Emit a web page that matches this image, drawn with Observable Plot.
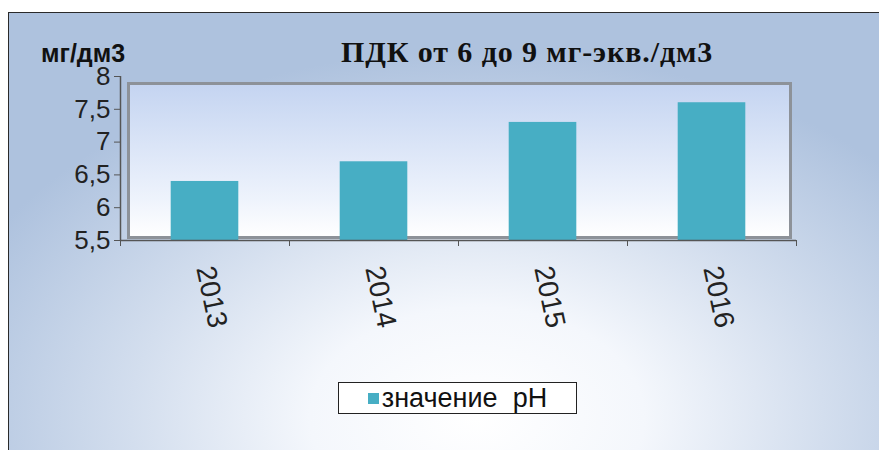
<!DOCTYPE html>
<html>
<head>
<meta charset="utf-8">
<script src="https://cdn.jsdelivr.net/npm/d3@7"></script>
<script src="https://cdn.jsdelivr.net/npm/@observablehq/plot@0.6"></script>
<style>
  html, body { margin: 0; padding: 0; background: #fff; overflow: hidden; }
  #wrap { position: relative; width: 879px; height: 450px; overflow: hidden; background: #fff; }
  #bg { position: absolute; left: 8px; top: 12px; width: 900px; height: 460px;
        border: 1.5px solid #2a2a2a;
        background: radial-gradient(ellipse 62% 80% at 52% 88%, #ffffff 0%, #f4f7fc 30%, #d3deee 62%, #aec2de 100%); }
  #chart { position: absolute; left: 0; top: 0; }
  #unit { position: absolute; left: 41px; top: 39px; line-height: 1; font: bold 25px "Liberation Sans", Arial, sans-serif; color: #111; }
  #title { position: absolute; left: 341px; top: 35px; font: bold 30px "Liberation Serif", "Times New Roman", serif; letter-spacing: 0.9px; color: #111; white-space: nowrap; }
  #legend { position: absolute; left: 338px; top: 382px; width: 237px; height: 30px; border: 1.5px solid #222; background: #fff;
            font: 27px "Liberation Sans", Arial, sans-serif; color: #111; display: flex; align-items: center; justify-content: center; }
  #legend .sw { width: 11px; height: 11px; background: #47aec4; margin-right: 3px; }
</style>
</head>
<body>
<div id="wrap">
  <div id="bg"></div>
  <div id="chart"></div>
  <div id="unit">мг/дм3</div>
  <div id="title">ПДК от 6 до 9 мг-экв./дм3</div>
  <div id="legend"><span class="sw"></span><span>значение&nbsp; pH</span></div>
</div>
<script>
const years = ["2013", "2014", "2015", "2016"];
const phValues = [6.4, 6.7, 7.3, 7.6];
const yTicks = [5.5, 6, 6.5, 7, 7.5, 8];
const seriesName = "значение pH";

const data = years.map((y, i) => ({year: y, i, value: phValues[i]}));

const plot = Plot.plot({
  width: 879,
  height: 450,
  marginLeft: 120,
  marginRight: 83,
  marginTop: 76,
  marginBottom: 210,
  style: {background: "transparent", overflow: "visible"},
  x: {domain: [0, years.length], label: null},
  y: {domain: [5.5, 8], label: null},
  marks: [
    Plot.frame({insetLeft: 8, insetRight: 6, insetTop: 7, insetBottom: 3, fill: "url(#innerGrad)", stroke: "#8d9299", strokeWidth: 3}),
    Plot.rect(data, {x1: d => d.i + 0.3, x2: d => d.i + 0.7, y1: 5.5, y2: "value", fill: "#47aec4"}),
    Plot.ruleX([0], {stroke: "#555", strokeWidth: 1.5}),
    Plot.ruleY([5.5], {stroke: "#555", strokeWidth: 1.5}),
    Plot.axisY({ticks: yTicks, tickFormat: d => String(d).replace(".", ","), tickSize: 6, tickPadding: 4,
                fontSize: 26, fontFamily: "Liberation Sans, Arial, sans-serif", color: "#222", stroke: "#555"}),
    Plot.axisX({ticks: d3.range(years.length + 1), tickFormat: () => "", tickSize: 6, stroke: "#555"}),
    Plot.axisX({ticks: years.map((y, i) => i + 0.5), tickFormat: d => years[Math.floor(d)], tickSize: 0, tickPadding: 26,
                tickRotate: 78, fontSize: 28, fontFamily: "Liberation Sans, Arial, sans-serif", color: "#222"})
  ]
});

const defs = d3.create("svg:defs");
const g = defs.append("linearGradient").attr("id", "innerGrad").attr("x1", 0).attr("y1", 0).attr("x2", 0).attr("y2", 1);
g.append("stop").attr("offset", "0%").attr("stop-color", "#c4d4f1");
g.append("stop").attr("offset", "75%").attr("stop-color", "#eef3fc");
g.append("stop").attr("offset", "100%").attr("stop-color", "#ffffff");
plot.insertBefore(defs.node(), plot.firstChild);

document.getElementById("chart").appendChild(plot);
</script>
</body>
</html>
